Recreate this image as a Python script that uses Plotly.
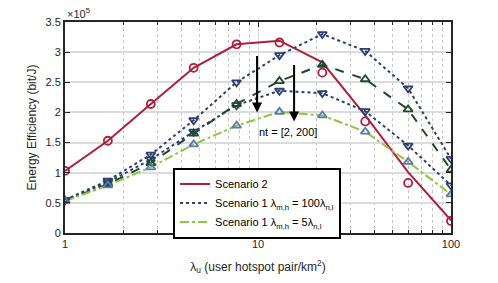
import plotly.graph_objects as go

# user hotspot pair density (log-spaced samples)
lam_u = [1.0, 1.668, 2.783, 4.642, 7.743, 12.92, 21.54, 35.94, 59.95, 100.0]

# Energy efficiency, units of 1e5 bit/J
sc2_line = [1.03, 1.53, 2.14, 2.74, 3.13, 3.19, 2.83, 1.95, 1.01, 0.21]
sc2_mark = [1.03, 1.53, 2.14, 2.74, 3.13, 3.16, 2.66, 1.85, 0.83, 0.20]
sc1_100_nt200 = [0.55, 0.87, 1.30, 1.87, 2.50, 2.95, 3.30, 3.02, 2.40, 1.23]
sc1_100_nt2 = [0.54, 0.84, 1.22, 1.68, 2.12, 2.36, 2.32, 2.02, 1.45, 0.79]
sc1_5_nt200 = [0.54, 0.81, 1.16, 1.65, 2.14, 2.52, 2.79, 2.55, 2.05, 1.05]
sc1_5_nt2 = [0.53, 0.79, 1.09, 1.47, 1.78, 2.01, 1.95, 1.68, 1.18, 0.64]

y_ticks = [0, 0.5, 1, 1.5, 2, 2.5, 3, 3.5]
y_ticktext = ["0", "0.5", "1", "1.5", "2", "2.5", "3", "3.5"]
x_ticks = [1, 10, 100]
x_ticktext = ["1", "10", "100"]
x_minor = [2, 3, 4, 5, 6, 7, 8, 9, 20, 30, 40, 50, 60, 70, 80, 90]

RED = "#B01E3C"
NAVY = "#2B3F70"
DGREEN = "#1D4A2A"
LGREEN = "#8DC63F"
STEEL = "#5A7BB0"

fig = go.Figure()

def line(y, color, dash, name, show):
    fig.add_trace(go.Scatter(x=lam_u, y=y, mode="lines", name=name, showlegend=show,
                             line=dict(color=color, width=2, dash=dash)))

def marks(y, color, symbol):
    fig.add_trace(go.Scatter(x=lam_u, y=y, mode="markers", showlegend=False,
                             marker=dict(symbol=symbol, size=8, color=color,
                                         line=dict(color=color, width=1.8))))

line(sc2_line, RED, "solid", "Scenario 2", True)
line(sc1_100_nt200, NAVY, "dot", "Scenario 1 λ<sub>m,h</sub> = 100λ<sub>n,l</sub>", True)
line(sc1_100_nt2, NAVY, "dot", "", False)
line(sc1_5_nt200, DGREEN, "dash", "", False)
line(sc1_5_nt2, LGREEN, "dashdot", "Scenario 1 λ<sub>m,h</sub> = 5λ<sub>n,l</sub>", True)

marks(sc2_mark, RED, "circle-open")
marks(sc1_100_nt200, NAVY, "triangle-down-open")
marks(sc1_100_nt2, NAVY, "triangle-down-open")
marks(sc1_5_nt200, DGREEN, "triangle-up-open")
marks(sc1_5_nt2, STEEL, "triangle-up-open")

font = "Liberation Sans, Arial, sans-serif"

fig.update_layout(
    width=498, height=283,
    margin=dict(l=65, r=47, t=22, b=50, autoexpand=False),
    paper_bgcolor="white", plot_bgcolor="white",
    font=dict(family=font, size=11, color="#262626"),
    legend=dict(x=0.28, y=0.31, xanchor="left", yanchor="top",
                bgcolor="white", bordercolor="black", borderwidth=2,
                font=dict(size=11, color="black"), tracegroupgap=0,
                itemwidth=30),
    xaxis=dict(type="log", range=[0, 2], tickmode="array", tickvals=x_ticks, ticktext=x_ticktext,
               showline=True, linecolor="#262626", linewidth=2, mirror="allticks",
               ticks="inside", ticklen=5, tickcolor="#262626",
               showgrid=True, gridcolor="#dcdcdc", gridwidth=1.2,
               minor=dict(tickmode="array", tickvals=x_minor, ticks="inside", ticklen=3,
                          tickcolor="#262626", showgrid=True, gridcolor="#c4c4c4",
                          griddash="dot", gridwidth=1.2),
               zeroline=False,
               title=dict(text="λ<sub>u</sub> (user hotspot pair/km<sup>2</sup>)", standoff=13,
                          font=dict(size=12))),
    yaxis=dict(range=[0, 3.5], tickmode="array", tickvals=y_ticks, ticktext=y_ticktext,
               showline=True, linecolor="#262626", linewidth=2, mirror="allticks",
               ticks="inside", ticklen=5, tickcolor="#262626",
               showgrid=True, gridcolor="#dcdcdc", gridwidth=2, zeroline=False,
               title=dict(text="Energy Efficiency (bit/J)", standoff=6, font=dict(size=12))),
)

# ×10^5 multiplier label
fig.add_annotation(xref="paper", yref="paper", x=0.0, y=1.0, xanchor="left", yanchor="bottom",
                   text="×10<sup>5</sup>", showarrow=False, font=dict(size=11, color="#262626"))

# nt arrows (x in log10 units)
fig.add_annotation(x=0.995, y=2.0, xref="x", yref="y", ax=0, ay=-58, text="", showarrow=True,
                   arrowhead=2, arrowsize=1, arrowwidth=2, arrowcolor="black")
fig.add_annotation(x=1.187, y=1.85, xref="x", yref="y", ax=0, ay=-58, text="", showarrow=True,
                   arrowhead=2, arrowsize=1, arrowwidth=2, arrowcolor="black")
fig.add_annotation(x=1.155, y=1.67, xref="x", yref="y", text="nt = [2, 200]", showarrow=False,
                   font=dict(size=11, color="black"), bgcolor="rgba(0,0,0,0)")

fig.write_html("out.html", config={"displayModeBar": False},
               post_script="document.body.style.margin='0';document.body.style.padding='0';")
